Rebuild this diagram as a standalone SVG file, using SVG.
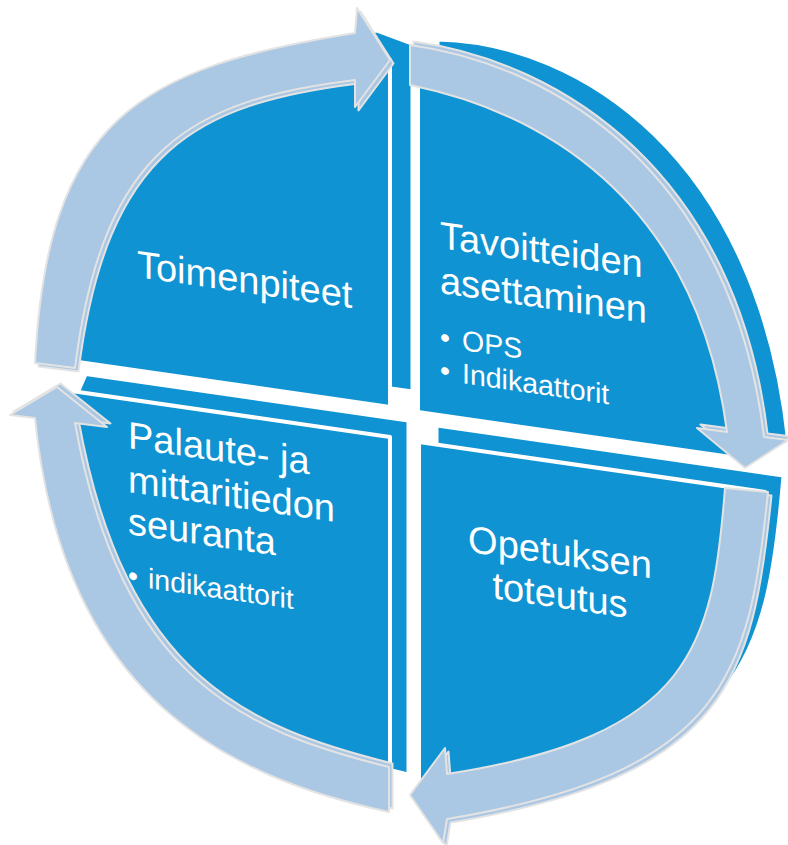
<svg xmlns="http://www.w3.org/2000/svg" width="788" height="845" viewBox="0 0 788 845">
<defs>
<style>
.face{fill:#0F93D2;stroke:#ffffff;stroke-width:4;stroke-linejoin:round}
.back{fill:#0F93D2;stroke:#ffffff;stroke-width:3;stroke-linejoin:round}
.arrow{fill:#AAC7E3;stroke:#E3E3E3;stroke-width:2;stroke-linejoin:round}
.t{fill:#ffffff;font-family:"Liberation Sans",Arial,sans-serif}
.h{font-size:38px}
.b{font-size:28.5px}
</style>
<path id="arTL" class="arrow" d="M35,363 C47.3,117.9 140.1,67.4 355,33 L357,8 L390,60 L355,107 L355,80 C193.8,100 102.8,145.3 75,368 Z"/>
<path id="arTR" class="arrow" d="M410,45 C558.6,65.4 732.8,176.7 764,437 L788,440 L745,468 L697,428 L727,432 C695.8,192.1 533.2,110.3 410,85 Z"/>
<path id="arBR" class="arrow" d="M768,492 C749.6,675.7 725.4,772.5 447,819 L443,843 L410,795 L445,748 L447,774 C692.8,735.9 712.8,646.1 725,488 Z"/>
<path id="arBL" class="arrow" d="M389,812 C230,777 63.3,701 35,418 L10,415 L57,387 L107,427 L75,423 C121.5,681.6 245.4,731.1 389,767 Z"/>
</defs>
<rect width="788" height="845" fill="#ffffff"/>
<g id="node-toimenpiteet">
<path class="back" d="M412,391 L412,44 L377,31.1 C178.2,61.2 85.9,110.1 69,348.5 L69,341.4 Z"/>
<path class="face" d="M390,407 L390,60 L355,47.1 C156.2,77.2 63.9,126.1 47,364.5 L47,357.4 Z"/>
</g>
<g id="node-tavoitteiden-asettaminen">
<path class="back" d="M438,398 L438,40 C578,43 758,156 788,443 L777,448 Z"/>
<path class="face" d="M418,412 L418,66 C545.9,87.9 714.3,184.4 745.5,434.5 L752,460 Z"/>
</g>
<g id="node-opetuksen-toteutus">
<path class="back" d="M437,426 L783,476 C767.6,659.7 743.4,756.5 465,803 L448,796 L437,774 Z"/>
<path class="face" d="M419,442 L765,492 C749.6,675.7 725.4,772.5 447,819 L430,812 L419,790 Z"/>
</g>
<g id="node-palaute-seuranta">
<path class="back" d="M408,421 L408,774 C255.7,738 110.4,675.3 73,404.5 L86,374.4 Z"/>
<path class="face" d="M390,437 L390,790 C237.7,754 92.4,691.3 55,420.5 L68,390.4 Z"/>
</g>
<g id="connectors">
<use href="#arTL" transform="translate(3.5,3.5)"/>
<use href="#arTL"/>
<use href="#arTR" transform="translate(3.5,-3.5)"/>
<use href="#arTR"/>
<use href="#arBR" transform="translate(3.5,3.5)"/>
<use href="#arBR"/>
<use href="#arBL" transform="translate(3.5,-3.5)"/>
<use href="#arBL"/>
</g>
<g id="labels" transform="matrix(1 0.1446 0 1 0 0)">
<g id="label-toimenpiteet">
<text class="t h" x="137" y="257.2">Toimenpiteet</text>
</g>
<g id="label-tavoitteiden">
<text class="t h" x="440" y="184.4">Tavoitteiden</text>
<text class="t h" x="440" y="229.4">asettaminen</text>
<text class="t b" x="440" y="283.2">•</text>
<text class="t b" x="462" y="283.2">OPS</text>
<text class="t b" x="440" y="316.2">•</text>
<text class="t b" x="462" y="316.2">Indikaattorit</text>
</g>
<g id="label-opetuksen">
<text class="t h" x="560" y="484" text-anchor="middle">Opetuksen</text>
<text class="t h" x="560" y="527" text-anchor="middle">toteutus</text>
</g>
<g id="label-palaute">
<text class="t h" x="128" y="429.5">Palaute- ja</text>
<text class="t h" x="128" y="473.5">mittaritiedon</text>
<text class="t h" x="128" y="515.5">seuranta</text>
<text class="t b" x="128" y="566.6">•</text>
<text class="t b" x="148" y="566.6">indikaattorit</text>
</g>
</g>
</svg>
